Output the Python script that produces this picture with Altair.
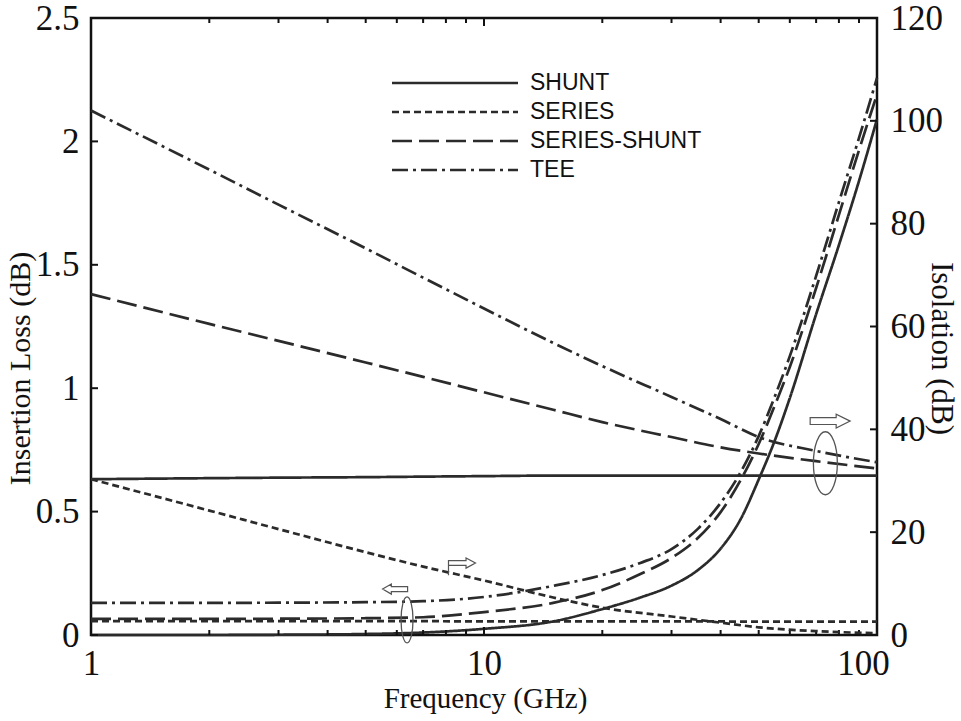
import altair as alt
import pandas as pd

# ---------------- data ----------------
topologies = ["SHUNT", "SERIES", "SERIES-SHUNT", "TEE"]

# Insertion loss (left axis, dB)
freq_il = [1, 2, 3, 5, 7, 10, 15, 20, 25, 30, 35, 40, 45, 50, 55, 60, 70, 80, 90, 100]
il_shunt = [0.0, 0.0, 0.001, 0.004, 0.01, 0.025, 0.055, 0.105, 0.152, 0.2, 0.263, 0.35, 0.47, 0.63, 0.79, 0.96, 1.30, 1.58, 1.84, 2.09]
il_series = [0.056, 0.056, 0.056, 0.056, 0.056, 0.055, 0.055, 0.055, 0.055, 0.055, 0.055, 0.055, 0.054, 0.054, 0.054, 0.054, 0.054, 0.054, 0.054, 0.054]
il_series_shunt = [0.065, 0.065, 0.066, 0.068, 0.072, 0.093, 0.13, 0.182, 0.247, 0.312, 0.393, 0.498, 0.628, 0.774, 0.932, 1.086, 1.406, 1.702, 1.965, 2.19]
il_tee = [0.13, 0.13, 0.131, 0.133, 0.137, 0.154, 0.199, 0.243, 0.292, 0.348, 0.43, 0.535, 0.66, 0.806, 0.968, 1.13, 1.455, 1.754, 2.014, 2.257]

# Isolation (right axis, dB)
freq_iso = [1, 2, 3, 5, 7, 10, 15, 20, 30, 40, 50, 70, 100]
iso_shunt = [30.3, 30.5, 30.6, 30.7, 30.8, 30.9, 31.0, 31.0, 31.0, 31.0, 31.0, 31.0, 31.0]
iso_series = [30.3, 24.2, 20.6, 16.1, 13.3, 10.6, 7.3, 5.3, 3.6, 2.4, 1.5, 0.75, 0.35]
iso_series_shunt = [66.3, 60.5, 57.2, 53.0, 50.2, 47.2, 43.8, 41.4, 38.5, 36.5, 35.3, 33.8, 32.4]
iso_tee = [102.0, 90.5, 83.7, 75.2, 69.5, 63.5, 56.8, 52.3, 46.3, 42.0, 38.5, 35.8, 33.6]

# axis ticks
x_tick_labels = [1, 10, 100]
x_minor_ticks = [2, 3, 4, 5, 6, 7, 8, 9, 20, 30, 40, 50, 60, 70, 80, 90]
x_major_ticks = [10]
il_ticks = [0, 0.5, 1.0, 1.5, 2.0, 2.5]
iso_ticks = [0, 20, 40, 60, 80, 100, 120]

# annotations (ellipses / arrows) in data coordinates
ann_il_ellipse_freq, ann_il_ellipse_val = [6.37], [0.061]
ann_il_arrow_freq, ann_il_arrow_val = [5.94], [0.186]
ann_iso_small_arrow_freq, ann_iso_small_arrow_val = [8.79], [14.0]
ann_iso_ellipse_freq, ann_iso_ellipse_val = [73.9], [33.4]
ann_iso_arrow_freq, ann_iso_arrow_val = [76.0], [41.6]

# ---------------- tables ----------------
def long_table(freqs, series):
    rows = []
    for name, vals in zip(topologies, series):
        for f, v in zip(freqs, vals):
            rows.append({"freq": f, "value": v, "topology": name})
    return pd.DataFrame(rows)

il_df = long_table(freq_il, [il_shunt, il_series, il_series_shunt, il_tee])
iso_df = long_table(freq_iso, [iso_shunt, iso_series, iso_series_shunt, iso_tee])

W, H = 786, 617
SERIF = "Liberation Serif"
SANS = "Liberation Sans"
LINE = "#2b2b2b"
TICKFONT = 35

x_enc = alt.X(
    "freq:Q",
    scale=alt.Scale(type="log", domain=[1, 100]),
    axis=alt.Axis(
        values=x_tick_labels, format="~g", title="Frequency (GHz)",
        grid=False, domain=False, ticks=False, tickSize=0, labelFlush=False,
        labelFont=SERIF, labelFontSize=TICKFONT, labelColor="#111", labelPadding=11,
        labelOffset={"condition": {"test": "datum.value == 100", "value": -14}, "value": 0},
        titleFont=SERIF, titleFontSize=29, titleFontWeight="normal", titleColor="#111",
        titleX=394, titleY=63, titleBaseline="middle", titleAlign="center",
    ),
)

y_il = alt.Y(
    "value:Q",
    scale=alt.Scale(domain=[0, 2.5], nice=False, zero=False),
    axis=alt.Axis(
        orient="left", values=il_ticks, format="~g", title="Insertion Loss (dB)",
        grid=False, domain=False, ticks=False, tickSize=0, labelFlush=False,
        labelFont=SERIF, labelFontSize=TICKFONT, labelColor="#111", labelPadding=12,
        titleFont=SERIF, titleFontSize=30, titleFontWeight="normal", titleColor="#111",
        titleAngle=270, titleX=-71, titleY=350, titleBaseline="middle", titleAlign="center",
    ),
)

y_iso = alt.Y(
    "value:Q",
    scale=alt.Scale(domain=[0, 120], nice=False, zero=False),
    axis=alt.Axis(
        orient="right", values=iso_ticks, format="d", title="Isolation (dB)",
        grid=False, domain=False, ticks=False, tickSize=0, labelFlush=False,
        labelFont=SERIF, labelFontSize=TICKFONT, labelColor="#111", labelPadding=13,
        titleFont=SERIF, titleFontSize=31, titleFontWeight="normal", titleColor="#111",
        titleAngle=90, titleX=63, titleY=330, titleBaseline="middle", titleAlign="center",
    ),
)

dash_enc = alt.StrokeDash(
    "topology:N",
    scale=alt.Scale(domain=topologies, range=[[1, 0], [7, 4], [20, 7], [16, 5, 3, 5]]),
    legend=alt.Legend(
        title=None, orient="none", legendX=352, legendY=53, padding=0,
        symbolType="M-6,0H6", symbolSize=441, symbolStrokeWidth=2.6,
        symbolStrokeColor=LINE, labelFont=SANS, labelFontSize=23, labelColor="#111",
        labelOffset=63, rowPadding=5, labelLimit=400,
    ),
)

# ---------------- layer A: insertion loss ----------------
il_lines = alt.Chart(il_df).mark_line(color=LINE, strokeWidth=2.7, interpolate="monotone").encode(
    x=x_enc, y=y_il, strokeDash=dash_enc
)

bottom_minor = alt.Chart(pd.DataFrame({"freq": x_minor_ticks})).mark_rule(color="#111", strokeWidth=2).encode(
    x=x_enc, y=alt.value(H), y2=alt.value(H - 5)
)
top_minor = alt.Chart(pd.DataFrame({"freq": x_minor_ticks})).mark_rule(color="#111", strokeWidth=2).encode(
    x=x_enc, y=alt.value(0), y2=alt.value(5)
)
bottom_major = alt.Chart(pd.DataFrame({"freq": x_major_ticks})).mark_rule(color="#111", strokeWidth=2).encode(
    x=x_enc, y=alt.value(H), y2=alt.value(H - 8)
)
top_major = alt.Chart(pd.DataFrame({"freq": x_major_ticks})).mark_rule(color="#111", strokeWidth=2).encode(
    x=x_enc, y=alt.value(0), y2=alt.value(8)
)
left_ticks = alt.Chart(pd.DataFrame({"value": il_ticks})).mark_rule(color="#111", strokeWidth=2).encode(
    y=y_il, x=alt.value(0), x2=alt.value(7)
)

ellipse_small = "M0,-1 C0.144,-1 0.26,-0.55 0.26,0 C0.26,0.55 0.144,1 0,1 C-0.144,1 -0.26,0.55 -0.26,0 C-0.26,-0.55 -0.144,-1 0,-1 Z"
ellipse_big = "M0,-1 C0.21,-1 0.38,-0.55 0.38,0 C0.38,0.55 0.21,1 0,1 C-0.21,1 -0.38,0.55 -0.38,0 C-0.38,-0.55 -0.21,-1 0,-1 Z"
arrow_left = "M1,-0.2 L-0.3,-0.2 L-0.3,-0.4 L-1,0 L-0.3,0.4 L-0.3,0.2 L1,0.2 Z"
arrow_right_small = "M-1,-0.18 L0.3,-0.18 L0.3,-0.38 L1,0 L0.3,0.38 L0.3,0.18 L-1,0.18 Z M-1,0.18 L-1,0.9"
arrow_right_big = "M-1,-0.17 L0.3,-0.17 L0.3,-0.35 L1,0 L0.3,0.35 L0.3,0.17 L-1,0.17 Z"

il_ellipse = alt.Chart(pd.DataFrame({"freq": ann_il_ellipse_freq, "value": ann_il_ellipse_val})).mark_point(
    shape=ellipse_small, size=2116, filled=False, stroke="#555", strokeWidth=1.3, opacity=1
).encode(x=x_enc, y=y_il)
il_arrow = alt.Chart(pd.DataFrame({"freq": ann_il_arrow_freq, "value": ann_il_arrow_val})).mark_point(
    shape=arrow_left, size=625, filled=True, fill="white", stroke="#555", strokeWidth=1.2, opacity=1
).encode(x=x_enc, y=y_il)

layer_il = alt.layer(il_lines, bottom_minor, top_minor, bottom_major, top_major, left_ticks, il_ellipse, il_arrow)

# ---------------- layer B: isolation ----------------
iso_lines = alt.Chart(iso_df).mark_line(color=LINE, strokeWidth=2.7, interpolate="monotone").encode(
    x=x_enc, y=y_iso, strokeDash=dash_enc
)
right_ticks = alt.Chart(pd.DataFrame({"value": iso_ticks})).mark_rule(color="#111", strokeWidth=2).encode(
    y=y_iso, x=alt.value(W), x2=alt.value(W - 7)
)
iso_small_arrow = alt.Chart(pd.DataFrame({"freq": ann_iso_small_arrow_freq, "value": ann_iso_small_arrow_val})).mark_point(
    shape=arrow_right_small, size=729, filled=True, fill="white", stroke="#555", strokeWidth=1.2, opacity=1
).encode(x=x_enc, y=y_iso)
iso_ellipse = alt.Chart(pd.DataFrame({"freq": ann_iso_ellipse_freq, "value": ann_iso_ellipse_val})).mark_point(
    shape=ellipse_big, size=3969, filled=False, stroke="#555", strokeWidth=1.3, opacity=1
).encode(x=x_enc, y=y_iso)
iso_arrow = alt.Chart(pd.DataFrame({"freq": ann_iso_arrow_freq, "value": ann_iso_arrow_val})).mark_point(
    shape=arrow_right_big, size=1600, filled=True, fill="white", stroke="#555", strokeWidth=1.2, opacity=1
).encode(x=x_enc, y=y_iso)

layer_iso = alt.layer(iso_lines, right_ticks, iso_small_arrow, iso_ellipse, iso_arrow)

chart = (
    alt.layer(layer_il, layer_iso)
    .resolve_scale(y="independent")
    .properties(
        width=W, height=H,
        autosize=alt.AutoSizeParams(type="none"),
        padding={"left": 91, "top": 18, "right": 84, "bottom": 86},
        background="white",
    )
    .configure_view(stroke="#111", strokeWidth=2.5)
)

chart.save("out.html", embed_options={"renderer": "svg", "actions": False})
